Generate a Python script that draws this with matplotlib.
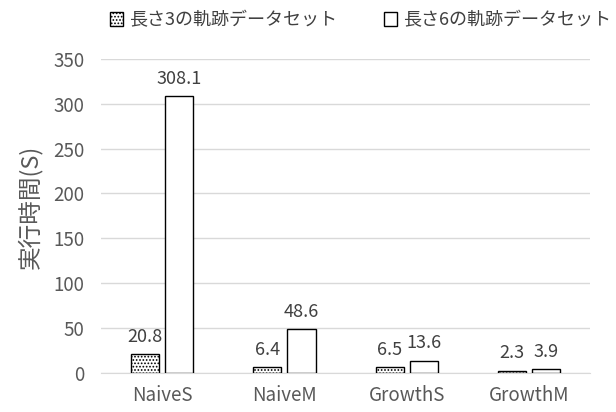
import numpy as np
import matplotlib
matplotlib.use('Agg')
import matplotlib.pyplot as plt

plt.rcParams['font.family'] = ['Noto Sans CJK JP', 'DejaVu Sans']
plt.rcParams['hatch.linewidth'] = 0.8

# 各手法の実行時間
methods = ['NaiveS', 'NaiveM', 'GrowthS', 'GrowthM']
len3 = [20.8, 6.4, 6.5, 2.3]
len6 = [308.1, 48.6, 13.6, 3.9]
names = ['長さ3の軌跡データセット', '長さ6の軌跡データセット']

fig = plt.figure(figsize=(6.16, 4.12), dpi=100)
ax = fig.add_axes([0.164, 0.095, 0.794, 0.762])

x = np.arange(len(methods))
w = 0.23
off = 0.14
b1 = ax.bar(x - off, len3, w, color='white', edgecolor='black', linewidth=1.0,
            hatch='.....', label=names[0], zorder=3)
b2 = ax.bar(x + off, len6, w, color='white', edgecolor='black', linewidth=1.0,
            label=names[1], zorder=3)

ax.bar_label(b1, labels=[f'{v:.1f}' for v in len3], padding=6, fontsize=13, color='#404040')
ax.bar_label(b2, labels=[f'{v:.1f}' for v in len6], padding=6, fontsize=13, color='#404040')

ax.set_xlim(-0.5, 3.5)
ax.set_ylim(0, 350)
ax.set_yticks(range(0, 351, 50))
ax.set_xticks(x)
ax.set_xticklabels(methods)
ax.tick_params(axis='both', length=0, labelsize=13.5, labelcolor='#595959')
ax.tick_params(axis='x', pad=9)
ax.tick_params(axis='y', pad=12)
ax.grid(axis='y', color='#d9d9d9', linewidth=1, zorder=0)
for s in ['top', 'right', 'left']:
    ax.spines[s].set_visible(False)
ax.spines['bottom'].set_color('#d9d9d9')
ax.set_ylabel('実行時間(S)', fontsize=17, color='#595959')
ax.yaxis.set_label_coords(-0.12, 0.53)

fig.legend(handles=[b1, b2], loc='upper center', bbox_to_anchor=(0.585, 1.012),
           ncol=2, frameon=False, fontsize=13, handlelength=0.75, handleheight=0.75,
           handletextpad=0.3, columnspacing=2.6, labelcolor='#404040')

fig.savefig('out.png', dpi=100)
